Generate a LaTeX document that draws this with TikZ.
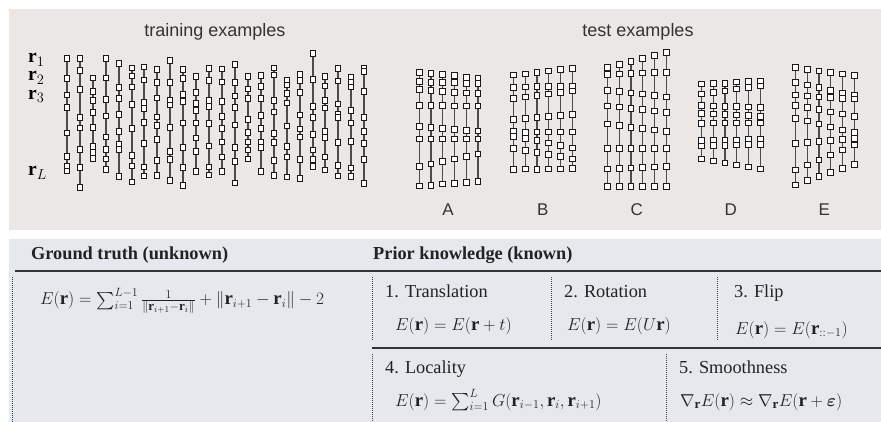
\documentclass[tikz,border=0pt]{standalone}
\usepackage{amsmath}
\usepackage{fontspec}
\setmainfont{Liberation Serif}
\newfontfamily\hvfont{Liberation Sans}
\definecolor{toppanel}{HTML}{EBE7E4}
\definecolor{botpanel}{HTML}{E5E8ED}
\definecolor{inktext}{HTML}{222222}
\pgfdeclarelayer{back}
\pgfdeclarelayer{links}
\pgfsetlayers{back,links,main}
\tikzset{
  bead/.style={rectangle, draw=black!90, fill=white, line width=1pt, minimum size=5.8pt, inner sep=0pt},
  link/.style={draw=black!70, line width=1.1pt},
  titletext/.style={font=\hvfont\fontsize{18}{22}\selectfont, text=black!80, inner sep=0pt},
  lettertext/.style={font=\hvfont\fontsize{17}{20}\selectfont, text=black!80, inner sep=0pt},
  rlabel/.style={font=\fontsize{19.5}{22}\selectfont, text=black, inner sep=0pt, anchor=base west, text height=8pt, text depth=2pt},
  headtext/.style={font=\bfseries\fontsize{18.3}{22}\selectfont, text=inktext, inner sep=0pt, anchor=base west},
  celltext/.style={font=\fontsize{18.3}{22}\selectfont, text=inktext, inner sep=0pt, anchor=base west},
  mathtext/.style={font=\fontsize{18.8}{22}\selectfont, text=inktext, inner sep=0pt, anchor=base west},
  solidrule/.style={draw=black!80, line width=1.3pt},
  dotrule/.style={draw=black!75, line width=0.9pt, dash pattern=on 0.9pt off 1.1pt},
}
\newcommand\chainof[3]{%
  \foreach \yy [count=\ii] in {#3}{\node[bead] (#1-\ii) at (#2,\yy) {};}%
  \begin{pgfonlayer}{links}%
  \foreach \ii [remember=\ii as \jj (initially 1)] in {2,...,8}{\draw[link] (#1-\jj.center) -- (#1-\ii.center);}%
  \end{pgfonlayer}%
}
\begin{document}
\begin{tikzpicture}[x=1pt,y=-1pt]
\useasboundingbox (0,0) rectangle (881,422);
\begin{pgfonlayer}{back}
\fill[toppanel] (9,9) rectangle (881,230);
\fill[botpanel] (9,239) rectangle (881,422);
\end{pgfonlayer}

% titles
\node[titletext] (ttrain) at (215,32) {training examples};
\node[titletext] (ttest) at (638,32) {test examples};

% r labels
\node[rlabel] (r1) at (28,63) {$\mathbf{r}_1$};
\node[rlabel] (r2) at (28,81) {$\mathbf{r}_2$};
\node[rlabel] (r3) at (28,99.5) {$\mathbf{r}_3$};
\node[rlabel] (rL) at (28,176) {$\mathbf{r}_L$};

% training chains
\chainof{t1}{67}{58.3,78.7,95,107.3,133,156.3,166.7,171}
\chainof{t2}{80}{58.3,70.3,89.7,117.3,128,149.7,167.3,187.3}
\chainof{t3}{93}{78,91.7,100.3,112.3,127.3,146.7,152.7,158.7}
\chainof{t4}{106}{58.3,78,99.3,116,137,149.7,159,169.3}
\chainof{t5}{119}{63.7,87.3,98.3,114.3,131.3,144.7,149.7,176.3}
\chainof{t6}{132}{68,76,87,104.7,128.3,155.3,166,182}
\chainof{t7}{144}{67,80,102.3,108.3,122.3,143.7,167,176}
\chainof{t8}{157}{69.7,82.7,98,117,125.3,139.3,160.3,175.3}
\chainof{t9}{170}{60.7,82.3,100,105,127.3,151.7,159.3,180.3}
\chainof{t10}{183}{69.7,78.7,94.3,101.7,123,147.3,167.3,185.7}
\chainof{t11}{196}{76.3,92.7,103.7,110.7,123,138,151.3,171.3}
\chainof{t12}{209}{68.3,80.3,100.3,106.7,123.7,146,167,175}
\chainof{t13}{222}{69,82,101.3,116.3,128.3,142,157,171.7}
\chainof{t14}{235}{64.7,82.3,96,107.7,125,147.3,161.3,183}
\chainof{t15}{248}{76.7,89,98.3,119.7,132.7,142,150,159}
\chainof{t16}{261}{75.3,86.3,98.7,115.7,128.3,142,147.3,171.7}
\chainof{t17}{274}{68,75,100.3,112,133.7,142.7,160.7,175.3}
\chainof{t18}{287}{80,85,93.3,103,126,146.7,157,177}
\chainof{t19}{300}{74.3,80.3,92.3,115,129,137,159.7,178.7}
\chainof{t20}{313}{53.3,79.3,106.3,117.3,134.7,150,159.7,166.3}
\chainof{t21}{325}{76.3,86,100.3,108,131.7,137.7,157,170}
\chainof{t22}{338}{68.3,81,104,114,117.7,142.3,165.3,176}
\chainof{t23}{351}{77.3,82,87,110.3,123,141.7,168,176.3}
\chainof{t24}{364}{68.3,71.7,91.7,117.7,131.7,143.3,159.3,183.7}

% test A
\chainof{a1}{419.3}{72.3,81.7,89.3,105.7,126.3,139,166.3,186}
\chainof{a2}{431}{73.3,82.3,90.3,105.7,127.3,139,164,185.3}
\chainof{a3}{442.7}{74.7,82.3,91.3,105.7,128.3,139,161.3,184}
\chainof{a4}{454.3}{75.7,82.7,92.3,106,129.3,139,159,183.3}
\chainof{a5}{466.3}{77.3,83.3,93,106,130.3,139,156.3,182.3}
\chainof{a6}{478}{78.3,83.7,93.7,106,131,139,154,181.3}
% test B
\chainof{b1}{513.3}{75,87.7,98.3,119.3,131.7,136.3,148.3,169.3}
\chainof{b2}{525.3}{74,87,97,118.3,132.3,138.7,150.3,169}
\chainof{b3}{537}{72.3,86.7,95.3,117.3,132,140.7,152.7,169.3}
\chainof{b4}{548.7}{71,86.3,94,116.3,132,143,154.7,169}
\chainof{b5}{560.3}{69.7,86.3,92.3,115.3,132,145.3,156.7,169}
\chainof{b6}{572.3}{68.3,86,91,114.3,132,148,159,168.7}
% test C
\chainof{c1}{607.3}{67.3,74.3,90.3,106,124,148.3,169,186.7}
\chainof{c2}{619.3}{64.7,74,91.7,107,125.7,148.3,168.3,186.7}
\chainof{c3}{631}{61.7,73.3,93,108.3,127.3,148.3,168,186.7}
\chainof{c4}{642.7}{58.7,73,94,109.7,128.7,148.3,167.7,186.7}
\chainof{c5}{654.7}{55.7,72.7,95.3,111,130,148.3,167,186.7}
\chainof{c6}{666.3}{52.7,72.3,97,112.3,131.3,148.3,166.7,186.7}
% test D
\chainof{d1}{701.7}{84,94,105.7,113.3,123.3,140.7,146,159}
\chainof{d2}{713.3}{83.3,92.3,106,114,123,140.7,145.7,161}
\chainof{d3}{725}{83.3,91,106.3,114.3,123,140.3,145.3,163}
\chainof{d4}{736.7}{82,89,106.7,115,123,140,145,165}
\chainof{d5}{748.3}{81.7,87.7,107,115.7,123,139.7,144.7,167}
\chainof{d6}{760.3}{81.3,86,107.7,116.3,123,139.3,144.3,169}
% test E
\chainof{e1}{795.3}{67.3,82.3,95,105.3,118.3,143.3,170,185}
\chainof{e2}{807.3}{69.3,85,96,107.7,121,142.3,165,180.7}
\chainof{e3}{819}{71,87.7,97,109.7,124,141.7,160,176.7}
\chainof{e4}{830.7}{72.3,90.7,97.3,112,127,140.7,155,172.7}
\chainof{e5}{842.3}{74,93.3,98.3,114,130,139.3,150,168.7}
\chainof{e6}{854.3}{75.7,95.7,99,116.3,132.7,138.7,145,164.7}

% letters
\node[lettertext] (labA) at (448,210) {A};
\node[lettertext] (labB) at (542.7,210) {B};
\node[lettertext] (labC) at (636.7,210) {C};
\node[lettertext] (labD) at (730.7,210) {D};
\node[lettertext] (labE) at (824.3,210) {E};

% table
\node[headtext] (hgt) at (31,260) {Ground truth (unknown)};
\node[headtext] (hpk) at (373,260) {Prior knowledge (known)};
\draw[solidrule] (15,271) -- (881,271);
\draw[solidrule] (372,348) -- (881,348);
\draw[dotrule] (12,277) -- (12,422);
\draw[dotrule] (372,277) -- (372,340);
\draw[dotrule] (551,277) -- (551,340);
\draw[dotrule] (717,277) -- (717,340);
\draw[dotrule] (372,354) -- (372,422);
\draw[dotrule] (666,354) -- (666,422);

\node[mathtext] (fgt) at (40,305) {$E(\mathbf{r}) = \sum_{i=1}^{L-1} \frac{1}{\|\mathbf{r}_{i+1}-\mathbf{r}_i\|} + \|\mathbf{r}_{i+1}-\mathbf{r}_i\| - 2$};

\node[celltext] (h1) at (385,298) {1. Translation};
\node[mathtext] (f1) at (395,330) {$E(\mathbf{r}) = E(\mathbf{r}+t)$};
\node[celltext] (h2) at (564,298) {2. Rotation};
\node[mathtext] (f2) at (567,330) {$E(\mathbf{r}) = E(U\mathbf{r})$};
\node[celltext] (h3) at (734,298) {3. Flip};
\node[mathtext] (f3) at (735,334) {$E(\mathbf{r}) = E(\mathbf{r}_{::-1})$};
\node[celltext] (h4) at (385,373) {4. Locality};
\node[mathtext] (f4) at (395,406) {$E(\mathbf{r}) = \sum_{i=1}^{L} G(\mathbf{r}_{i-1},\mathbf{r}_i,\mathbf{r}_{i+1})$};
\node[celltext] (h5) at (679,373) {5. Smoothness};
\node[mathtext] (f5) at (680,406) {$\nabla_{\mathbf{r}} E(\mathbf{r}) \approx \nabla_{\mathbf{r}} E(\mathbf{r}+\boldsymbol{\varepsilon})$};
\end{tikzpicture}
\end{document}
